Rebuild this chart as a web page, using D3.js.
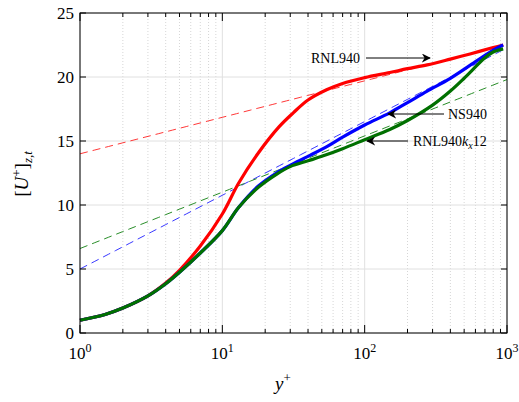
<!DOCTYPE html><html><head><script src="https://cdn.jsdelivr.net/npm/d3@7"></script>
<style>body{margin:0;background:#fff}</style></head><body>
<svg id="c" width="519" height="402" font-family="'Liberation Serif', 'Times New Roman', 'DejaVu Serif', serif"></svg>
<script>
const yTicks=[0,5,10,15,20,25];
const xTicks=[1,10,100,1000];
const redX=[1,1.5,2,3,4,5,7,10,13,18,25,31.5,40,54,70,100,150,200,275,400,550,800,940];
const redY=[1,1.45,1.95,2.9,3.9,4.9,6.8,9.3,11.7,14.1,16.1,17.2,18.2,19.0,19.5,19.95,20.35,20.65,20.95,21.4,21.8,22.3,22.5];
const blueX=[1,1.5,2,3,4,5,7,10,13,18,24,30,40,55,70,100,150,200,275,400,620,800,940];
const blueY=[1,1.45,1.95,2.9,3.85,4.75,6.25,8.0,9.8,11.5,12.5,13.1,13.8,14.6,15.3,16.25,17.2,18.0,18.9,19.9,21.3,22.1,22.5];
const greenX=[1,1.5,2,3,4,5,7,10,13,18,24,30,40,50,70,100,150,200,300,400,500,700,800,940];
const greenY=[1,1.45,1.95,2.9,3.85,4.75,6.25,8.0,9.8,11.4,12.4,13.0,13.45,13.8,14.4,15.1,15.9,16.6,17.8,18.9,19.9,21.5,21.95,22.2];
const logRed=[14,2.85], logBlue=[5,5.76], logGreen=[6.6,4.4];
const svg=d3.select("#c");
const L=80,R=507,T=13,B=333;
const x=d3.scaleLog().domain([1,1000]).range([L,R]);
const y=d3.scaleLinear().domain([0,25]).range([B,T]);
const g=svg.append("g");
const minors=[];for(let d=1;d<1000;d*=10)for(let k=2;k<10;k++)minors.push(d*k);
g.selectAll(".mn").data(minors).enter().append("line").attr("x1",d=>x(d)).attr("x2",d=>x(d)).attr("y1",T).attr("y2",B).attr("stroke","#ccc").attr("stroke-dasharray","1,2").attr("stroke-width",0.8);
g.selectAll(".mj").data(xTicks).enter().append("line").attr("x1",d=>x(d)).attr("x2",d=>x(d)).attr("y1",T).attr("y2",B).attr("stroke","#e0e0e0");
g.selectAll(".my").data(yTicks).enter().append("line").attr("y1",d=>y(d)).attr("y2",d=>y(d)).attr("x1",L).attr("x2",R).attr("stroke","#e0e0e0");
const lx=d3.range(0,3.0001,0.05).map(v=>Math.pow(10,v));
const line=d3.line().x(d=>x(d[0])).y(d=>y(d[1]));
[[logRed,"#ff2020"],[logBlue,"#2020ff"],[logGreen,"#108010"]].forEach(([p,c])=>{
 svg.append("path").attr("d",line(lx.map(v=>[v,p[0]+p[1]*Math.log10(v)]))).attr("fill","none").attr("stroke",c).attr("stroke-width",0.9).attr("stroke-dasharray","8,5");});
const cl=d3.line().x(d=>x(d[0])).y(d=>y(d[1])).curve(d3.curveCatmullRom.alpha(0.5));
[[redX,redY,"#ff0000"],[blueX,blueY,"#0000ff"],[greenX,greenY,"#007000"]].forEach(([xs,ys,c])=>{
 svg.append("path").attr("d",cl(xs.map((v,i)=>[v,ys[i]]))).attr("fill","none").attr("stroke",c).attr("stroke-width",3.2);});
svg.append("rect").attr("x",L).attr("y",T).attr("width",R-L).attr("height",B-T).attr("fill","none").attr("stroke","#000");
const tk=svg.append("g").attr("stroke","#000");
const allx=xTicks.concat(minors);
allx.forEach(d=>{const l=xTicks.includes(d)?8:4;tk.append("line").attr("x1",x(d)).attr("x2",x(d)).attr("y1",B).attr("y2",B-l);tk.append("line").attr("x1",x(d)).attr("x2",x(d)).attr("y1",T).attr("y2",T+l);});
yTicks.forEach(d=>{tk.append("line").attr("x1",L).attr("x2",L+6).attr("y1",y(d)).attr("y2",y(d));tk.append("line").attr("x1",R).attr("x2",R-6).attr("y1",y(d)).attr("y2",y(d));});
yTicks.forEach(d=>svg.append("text").attr("x",L-6).attr("y",y(d)+6).attr("text-anchor","end").attr("font-size",17).text(d));
xTicks.forEach(d=>{const t=svg.append("text").attr("x",x(d)).attr("y",359).attr("text-anchor","middle").attr("font-size",17);t.append("tspan").text("10");t.append("tspan").attr("dy",-7).attr("font-size",12).text(Math.round(Math.log10(d)));});
const xl=svg.append("text").attr("x",283).attr("y",390).attr("text-anchor","middle").attr("font-size",19);
xl.append("tspan").attr("font-style","italic").text("y");xl.append("tspan").attr("dy",-8).attr("font-size",13).text("+");
const yl=svg.append("text").attr("transform","translate(28,174) rotate(-90)").attr("text-anchor","middle").attr("font-size",19);
yl.append("tspan").text("[");yl.append("tspan").attr("font-style","italic").text("U");yl.append("tspan").attr("dy",-7).attr("font-size",13).text("+");yl.append("tspan").attr("dy",7).text("]");yl.append("tspan").attr("dy",4).attr("font-size",13).attr("font-style","italic").text("z,t");
svg.append("defs").append("marker").attr("id","ar").attr("viewBox","0 0 10 10").attr("refX",9).attr("refY",5).attr("markerWidth",9).attr("markerHeight",9).attr("orient","auto").attr("markerUnits","userSpaceOnUse").append("path").attr("d","M0,0 L10,5 L0,10 L3,5 z").attr("fill","#000");
function ann(txt,tx,ty,anchor,x1,x2){const t=svg.append("text").attr("x",tx).attr("y",ty+5).attr("text-anchor",anchor).attr("font-size",14);txt(t);
 svg.append("line").attr("x1",x1).attr("x2",x2).attr("y1",ty).attr("y2",ty).attr("stroke","#000").attr("marker-end","url(#ar)");}
ann(t=>t.text("RNL940"),360,58,"end",366,430);
ann(t=>t.text("NS940"),448,114,"start",444,388);
ann(t=>{t.append("tspan").text("RNL940");t.append("tspan").attr("font-style","italic").text("k");t.append("tspan").attr("dy",3).attr("font-size",10).attr("font-style","italic").text("x");t.append("tspan").attr("dy",-3).text("12");},413,141,"start",408,367);
</script></body></html>
